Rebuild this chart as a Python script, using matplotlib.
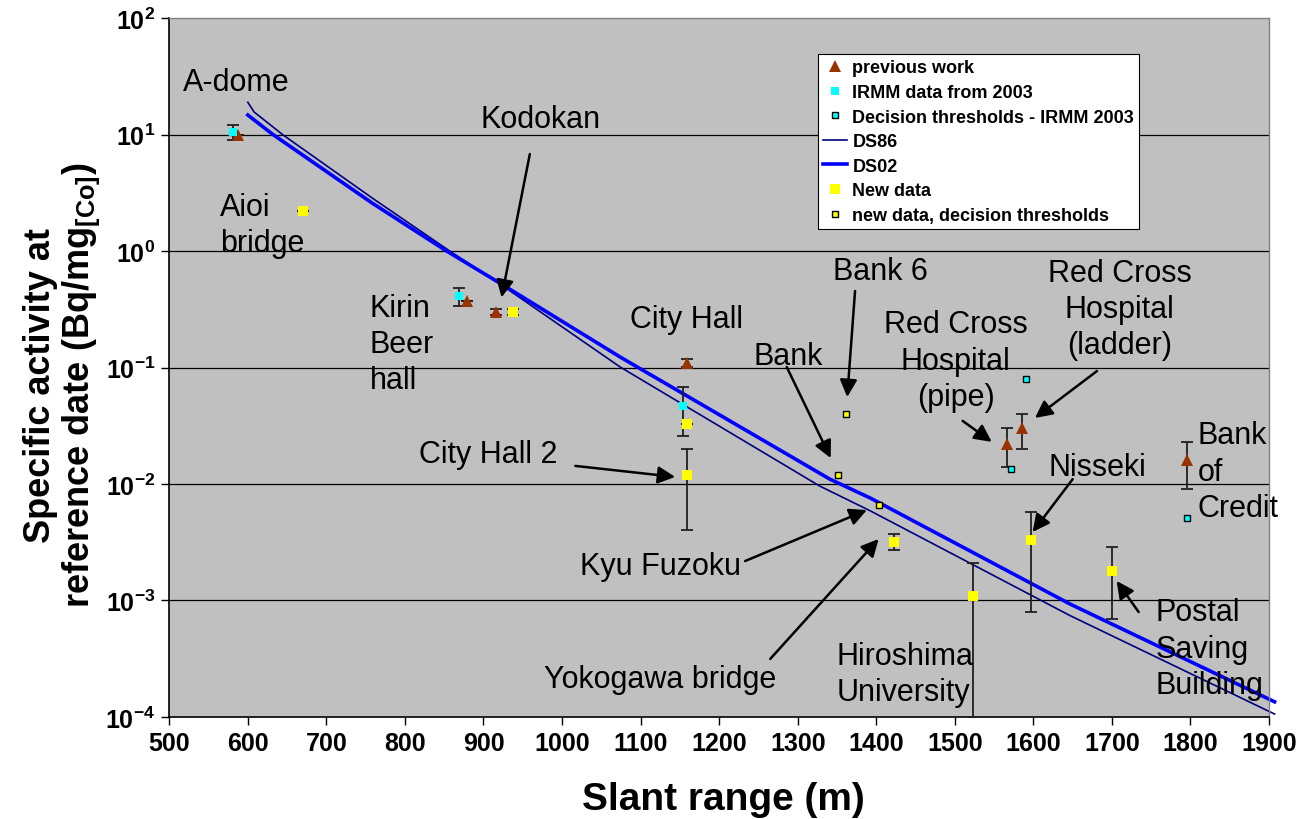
import numpy as np
import matplotlib
matplotlib.use("Agg")
import matplotlib.pyplot as plt
from matplotlib.ticker import NullLocator

plt.rcParams['font.family'] = ['Liberation Sans', 'DejaVu Sans']
plt.rcParams['mathtext.fontset'] = 'custom'
plt.rcParams['mathtext.rm'] = 'Liberation Sans'
plt.rcParams['mathtext.bf'] = 'Liberation Sans:bold'

# previous work (triangles)
prev_x = [587, 879, 916, 1159, 1566, 1585, 1796]
prev_y = [9.9, 0.37, 0.30, 0.11, 0.022, 0.030, 0.016]
prev_err = [0, 0, 0.02, 0.008, 0.008, 0.010, 0.007]

# IRMM data from 2003
irmm_x = [581, 869, 1154]
irmm_y = [10.5, 0.41, 0.047]
irmm_err = [1.6, 0.07, 0.021]

# decision thresholds, IRMM 2003
irmm_dt_x = [1571, 1591, 1796]
irmm_dt_y = [0.0135, 0.080, 0.0051]

# new data
new_x = [670, 938, 1159, 1159, 1423, 1523, 1597, 1700]
new_y = [2.2, 0.30, 0.033, 0.012, 0.0032, 0.0011, 0.0033, 0.0018]
new_err = [0, 0.02, 0, 0.008, 0.0005, 0.0010, 0.0025, 0.0011]

# new data, decision thresholds
new_dt_x = [1351, 1362, 1403]
new_dt_y = [0.012, 0.040, 0.0066]

# calculated curves
ds86_x = [600, 608, 645, 759, 857, 925, 1074, 1328, 1392, 1647, 1907]
ds86_y = [18.9, 15.6, 9.9, 2.83, 1.0, 0.50, 0.101, 0.0096, 0.0059, 0.00074, 1.06e-4]
ds02_x = [600, 632, 759, 853, 925, 1074, 1341, 1392, 1647, 1907]
ds02_y = [14.7, 10.0, 2.56, 1.0, 0.51, 0.123, 0.011, 0.0076, 0.00093, 1.35e-4]

xticks = list(range(500, 2000, 100))
yticks = [1e-4, 1e-3, 1e-2, 1e-1, 1e0, 1e1, 1e2]
ytick_labels = [r'$\mathbf{10^{%d}}$' % e for e in range(-4, 3)]

fig = plt.figure(figsize=(13.04, 8.2), dpi=100)
ax = fig.add_axes([0.1298, 0.1244, 0.8434, 0.8524])
ax.set_facecolor('#C0C0C0')
ax.set_yscale('log')
ax.set_xlim(500, 1900)
ax.set_ylim(1e-4, 1e2)

for y in yticks[1:-1]:
    ax.axhline(y, color='black', lw=0.9, zorder=1)

ecol = '#202020'
ax.errorbar(irmm_x, irmm_y, yerr=irmm_err, fmt='none', ecolor=ecol,
            elinewidth=1.3, capsize=4, capthick=1.3, zorder=3)
ax.errorbar(prev_x, prev_y, yerr=prev_err, fmt='none', ecolor=ecol,
            elinewidth=1.3, capsize=4, capthick=1.3, zorder=3)
ax.errorbar(new_x, new_y, yerr=new_err, fmt='none', ecolor=ecol,
            elinewidth=1.3, capsize=4, capthick=1.3, zorder=3)

h_prev, = ax.plot(prev_x, prev_y, '^', color='#993300', ms=9, mew=0,
                  ls='none', zorder=4, label='previous work')
h_irmm, = ax.plot(irmm_x, irmm_y, 's', color='#00FFFF', ms=6, mew=0,
                  ls='none', zorder=4, label='IRMM data from 2003')
h_irmm_dt, = ax.plot(irmm_dt_x, irmm_dt_y, 's', mfc='#00FFFF', mec='black',
                     ms=5, mew=1, ls='none', zorder=4,
                     label='Decision thresholds - IRMM 2003')
h_86, = ax.plot(ds86_x, ds86_y, color='#000080', lw=1.2, zorder=2,
                clip_on=False, label='DS86')
h_02, = ax.plot(ds02_x, ds02_y, color='#0000FF', lw=2.6, zorder=2,
                clip_on=False, label='DS02')
h_new, = ax.plot(new_x, new_y, 's', color='#FFFF00', ms=7, mew=0,
                 ls='none', zorder=4, label='New data')
h_new_dt, = ax.plot(new_dt_x, new_dt_y, 's', mfc='#FFFF00', mec='black',
                    ms=5, mew=1, ls='none', zorder=4,
                    label='new data, decision thresholds')

# site labels
tkw = dict(fontsize=22, color='black', linespacing=1.28, zorder=5)
ax.text(585, 28.2, 'A-dome', ha='center', va='center', **tkw)
ax.text(565, 1.67, 'Aioi\nbridge', ha='left', va='center', **tkw)
ax.text(973, 13.6, 'Kodokan', ha='center', va='center', **tkw)
ax.text(755, 0.159, 'Kirin\nBeer\nhall', ha='left', va='center', **tkw)
ax.text(1158, 0.26, 'City Hall', ha='center', va='center', **tkw)
ax.text(906, 0.0181, 'City Hall 2', ha='center', va='center', **tkw)
ax.text(1288, 0.126, 'Bank', ha='center', va='center', **tkw)
ax.text(1405, 0.673, 'Bank 6', ha='center', va='center', **tkw)
ax.text(1501, 0.114, 'Red Cross\nHospital\n(pipe)', ha='center', va='center', **tkw)
ax.text(1710, 0.318, 'Red Cross\nHospital\n(ladder)', ha='center', va='center', **tkw)
ax.text(1681, 0.014, 'Nisseki', ha='center', va='center', **tkw)
ax.text(1809, 0.0127, 'Bank\nof\nCredit', ha='left', va='center', **tkw)
ax.text(1125, 0.00198, 'Kyu Fuzoku', ha='center', va='center', **tkw)
ax.text(1125, 2.12e-4, 'Yokogawa bridge', ha='center', va='center', **tkw)
ax.text(1350, 2.34e-4, 'Hiroshima\nUniversity', ha='left', va='center', **tkw)
ax.text(1755, 3.84e-4, 'Postal\nSaving\nBuilding', ha='left', va='center', **tkw)

# arrows (tip, tail)
arrows = [
    ((923, 0.40), (959, 6.8)),
    ((1144, 0.0115), (1017, 0.0143)),
    ((1388, 0.00598), (1233, 0.00218)),
    ((1403, 0.00337), (1265, 3.15e-4)),
    ((1342, 0.0167), (1286, 0.101)),
    ((1363, 0.0558), (1373, 0.454)),
    ((1547, 0.023), (1510, 0.0348)),
    ((1602, 0.0369), (1681, 0.0933)),
    ((1599, 0.00387), (1650, 0.011)),
    ((1706, 1.47e-3), (1734, 7.96e-4)),
]
for tip, tail in arrows:
    ax.annotate('', xy=tip, xytext=tail, zorder=5,
                arrowprops=dict(arrowstyle='-|>', color='black', lw=1.8,
                                mutation_scale=26, shrinkA=0, shrinkB=0))

ax.set_xticks(xticks)
ax.set_xticklabels([str(v) for v in xticks], fontsize=18, fontweight='bold')
ax.set_yticks(yticks)
ax.set_yticklabels(ytick_labels, fontsize=18)
ax.yaxis.set_minor_locator(NullLocator())
ax.tick_params(axis='both', direction='out', length=6, width=1, pad=4)

for side in ['left', 'bottom']:
    ax.spines[side].set_color('black')
    ax.spines[side].set_linewidth(1.2)
for side in ['top', 'right']:
    ax.spines[side].set_color('#808080')
    ax.spines[side].set_linewidth(1.0)

fig.text(0.5544, 0.0244, 'Slant range (m)', fontsize=28, fontweight='bold',
         ha='center', va='center')
fig.text(0.048, 0.53,
         'Specific activity at\nreference date (Bq/mg$_{\\mathbf{[Co]}}$)',
         fontsize=26, fontweight='bold', rotation=90, ha='center', va='center',
         multialignment='center', linespacing=1.1)

leg = ax.legend(handles=[h_prev, h_irmm, h_irmm_dt, h_86, h_02, h_new, h_new_dt],
                loc='upper left', bbox_to_anchor=(818 / 1304, 1 - 55 / 820),
                bbox_transform=fig.transFigure, borderaxespad=0,
                prop={'weight': 'bold', 'size': 13}, fancybox=False,
                framealpha=1, edgecolor='black', labelspacing=0.42,
                handlelength=1.3, handletextpad=0.3, borderpad=0.3)
leg.get_frame().set_linewidth(0.8)
leg.set_zorder(10)

fig.savefig('out.png', dpi=100)
